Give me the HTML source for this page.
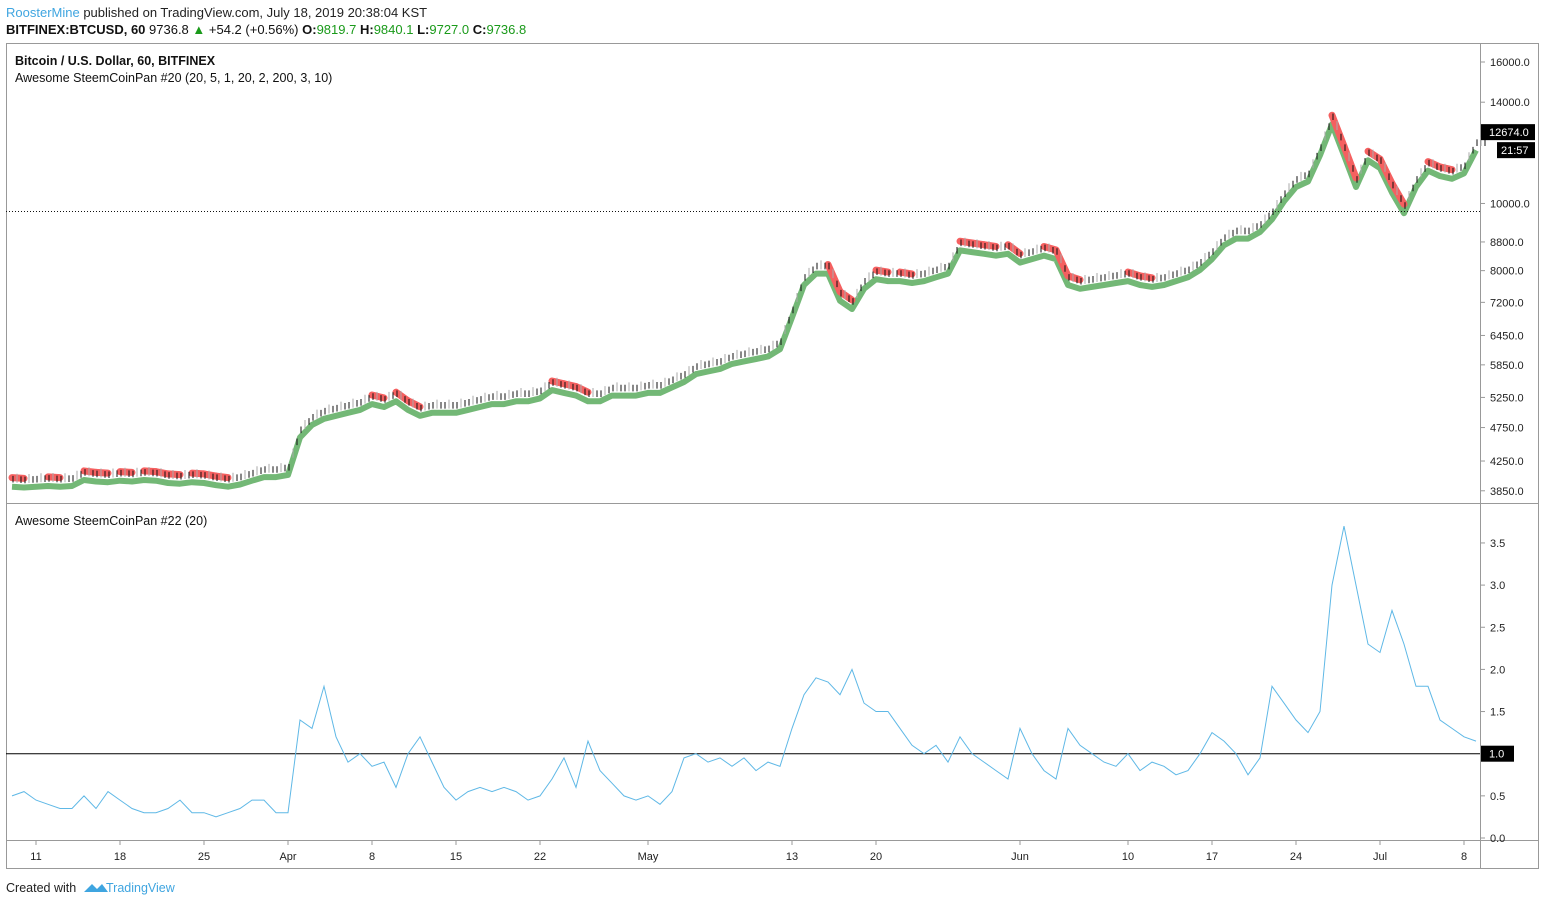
<!DOCTYPE html>
<html><head><meta charset="utf-8"><style>
body{margin:0;background:#fff;font-family:"Liberation Sans",sans-serif}
svg text{font-family:"Liberation Sans",sans-serif}
</style></head><body>
<svg id="c" width="1545" height="905" viewBox="0 0 1545 905" xmlns="http://www.w3.org/2000/svg">
<text x="6" y="17" font-size="13"><tspan fill="#3fa5e0">RoosterMine</tspan><tspan fill="#222"> published on TradingView.com, July 18, 2019 20:38:04 KST</tspan></text>
<text x="6" y="34" font-size="13" fill="#111"><tspan font-weight="bold">BITFINEX:BTCUSD, 60</tspan> 9736.8 <tspan fill="#1a9a1a">▲</tspan> +54.2 (+0.56%) <tspan font-weight="bold">O:</tspan><tspan fill="#1a9a1a">9819.7</tspan> <tspan font-weight="bold">H:</tspan><tspan fill="#1a9a1a">9840.1</tspan> <tspan font-weight="bold">L:</tspan><tspan fill="#1a9a1a">9727.0</tspan> <tspan font-weight="bold">C:</tspan><tspan fill="#1a9a1a">9736.8</tspan></text>
<rect x="6.5" y="43.5" width="1532" height="825" fill="none" stroke="#999"/>
<line x1="6" y1="503.5" x2="1538" y2="503.5" stroke="#999"/>
<line x1="1480.5" y1="43" x2="1480.5" y2="868" stroke="#999"/>
<line x1="6" y1="840.5" x2="1538" y2="840.5" stroke="#999"/>
<text x="15" y="65" font-size="12.5" font-weight="bold" fill="#111">Bitcoin / U.S. Dollar, 60, BITFINEX</text>
<text x="15" y="82" font-size="12.5" fill="#111">Awesome SteemCoinPan #20 (20, 5, 1, 20, 2, 200, 3, 10)</text>
<text x="15" y="525" font-size="12.5" fill="#111">Awesome SteemCoinPan #22 (20)</text>
<g id="g"></g>
<text x="6" y="892" font-size="12.5" fill="#222">Created with</text>
<path d="M84 892 l8 -8 l5 5 l5 -5 l6 8 z" fill="#3fa5e0"/>
<text x="106" y="892" font-size="12.5" fill="#3fa5e0">TradingView</text>
</svg>
<script>
const startDay = -2;
const closes = [3990,3980,3990,4000,3990,4000,4080,4060,4050,4070,4060,4080,4070,4040,4030,4050,4040,4010,3990,4020,4070,4120,4120,
4150,4700,4900,5000,5050,5100,5150,5250,5200,5300,5150,5050,5100,5100,5100,5150,5200,5250,5250,5300,5300,5350,5500,5450,5400,5300,5300,5400,5400,5400,
5450,5450,5550,5650,5800,5850,5900,6000,6050,6100,6150,6300,7000,7800,8100,8100,7400,7200,7700,7950,7900,7900,7850,7900,8000,8100,8750,8700,8650,8600,8650,
8400,8500,8600,8500,7800,7700,7750,7800,7850,7900,7800,7750,7800,7900,8000,8200,8500,8900,9100,9100,9300,9700,10300,10800,11000,12000,13300,12000,10800,11800,
11500,10600,9900,10800,11400,11200,11100,11300,12200];
const osc = [0.5,0.55,0.45,0.4,0.35,0.35,0.5,0.35,0.55,0.45,0.35,0.3,0.3,0.35,0.45,0.3,0.3,0.25,0.3,0.35,0.45,0.45,0.3,
0.3,1.4,1.3,1.8,1.2,0.9,1.0,0.85,0.9,0.6,1.0,1.2,0.9,0.6,0.45,0.55,0.6,0.55,0.6,0.55,0.45,0.5,0.7,0.95,0.6,1.15,0.8,0.65,0.5,0.45,
0.5,0.4,0.55,0.95,1.0,0.9,0.95,0.85,0.95,0.8,0.9,0.85,1.3,1.7,1.9,1.85,1.7,2.0,1.6,1.5,1.5,1.3,1.1,1.0,1.1,0.9,1.2,1.0,0.9,0.8,0.7,
1.3,1.0,0.8,0.7,1.3,1.1,1.0,0.9,0.85,1.0,0.8,0.9,0.85,0.75,0.8,1.0,1.25,1.15,1.0,0.75,0.95,1.8,1.6,1.4,1.25,1.5,3.0,3.7,3.0,2.3,
2.2,2.7,2.3,1.8,1.8,1.4,1.3,1.2,1.15];
const priceTicks = [16000,14000,10000,8800,8000,7200,6450,5850,5250,4750,4250,3850];
const oscTicks = [3.5,3.0,2.5,2.0,1.5,1.0,0.5,0.0];
const timeLabels = ["11","18","25","Apr","8","15","22","May","13","20","Jun","10","17","24","Jul","8"];
const timeDays = [0,7,14,21,28,35,42,51,63,70,82,91,98,105,112,119];
const lastPrice = 12674.0, refLine = 9736.8, oscRef = 1.0;

const NS="http://www.w3.org/2000/svg", g=document.getElementById('g');
const X=d=>36+d*12;
const Y=p=>62-301*Math.log(p/16000);
const YO=v=>838-84.3*v;
function mk(t,a,p){const e=document.createElementNS(NS,t);for(const k in a)e.setAttribute(k,a[k]);(p||g).appendChild(e);return e;}
function pts(arr,fy,f){return arr.map((v,i)=>X(startDay+i).toFixed(1)+','+fy(v*(f||1)).toFixed(1)).join(' ');}
let e=mk('polyline',{points:pts(closes,Y,0.978),fill:'none',stroke:'#5aac5e','stroke-width':6,'stroke-linejoin':'round','stroke-opacity':0.85});


for(let i=1;i<closes.length;i++){if(closes[i]<closes[i-1]){
 e=mk('line',{x1:X(startDay+i-1),y1:Y(closes[i-1]*1.008),x2:X(startDay+i),y2:Y(closes[i]*1.008),stroke:'#f56060','stroke-width':7,'stroke-linecap':'round'});
 
 
}}
for(let i=0;i<closes.length;i++){
 const a=closes[i], b=closes[Math.min(i+1,closes.length-1)];
 for(let k=0;k<3;k++){
  const p=a+(b-a)*k/3, x=X(startDay+i)+k*4+1;
  e=mk('line',{x1:x,y1:Y(p*(k==1?1.022:1.014)),x2:x,y2:Y(p*0.992),stroke:k==1?'#aaa':'#111','stroke-width':1});
  
  
 }
}
e=mk('line',{x1:6,x2:1480,y1:Y(refLine),y2:Y(refLine),stroke:'#111','stroke-dasharray':'1,2'});


priceTicks.forEach(p=>{const y=Y(p);
 e=mk('line',{x1:1480,x2:1485,y1:y,y2:y,stroke:'#999'});
 
 
 e=mk('text',{x:1490,y:y+4,'font-size':11,fill:'#222'});e.textContent=p.toFixed(1);
 
 
});
e=mk('rect',{x:1481,y:Y(lastPrice)-8,width:54,height:16,fill:'#000'});


e=mk('text',{x:1489,y:Y(lastPrice)+4,'font-size':11,fill:'#fff'});e.textContent=lastPrice.toFixed(1);


e=mk('rect',{x:1497,y:Y(lastPrice)+10,width:38,height:16,fill:'#000'});


e=mk('text',{x:1501,y:Y(lastPrice)+22,'font-size':11,fill:'#fff'});e.textContent='21:57';


e=mk('line',{x1:6,x2:1480,y1:YO(oscRef),y2:YO(oscRef),stroke:'#000','stroke-width':1});


e=mk('polyline',{points:pts(osc,YO),fill:'none',stroke:'#5fb8e6','stroke-width':1});


oscTicks.forEach(v=>{const y=YO(v);
 e=mk('line',{x1:1480,x2:1485,y1:y,y2:y,stroke:'#999'});
 
 
 e=mk('text',{x:1490,y:y+4,'font-size':11,fill:'#222'});e.textContent=v.toFixed(1);
 
 
});
e=mk('rect',{x:1481,y:YO(oscRef)-8,width:33,height:16,fill:'#000'});


e=mk('text',{x:1489,y:YO(oscRef)+4,'font-size':11,fill:'#fff'});e.textContent=oscRef.toFixed(1);


timeLabels.forEach((t,i)=>{const x=X(timeDays[i]);
 e=mk('line',{x1:x,x2:x,y1:840,y2:845,stroke:'#999'});
 
 
 e=mk('text',{x:x,y:860,'font-size':11,fill:'#222','text-anchor':'middle'});e.textContent=t;
 
 
});
</script>
</body></html>
